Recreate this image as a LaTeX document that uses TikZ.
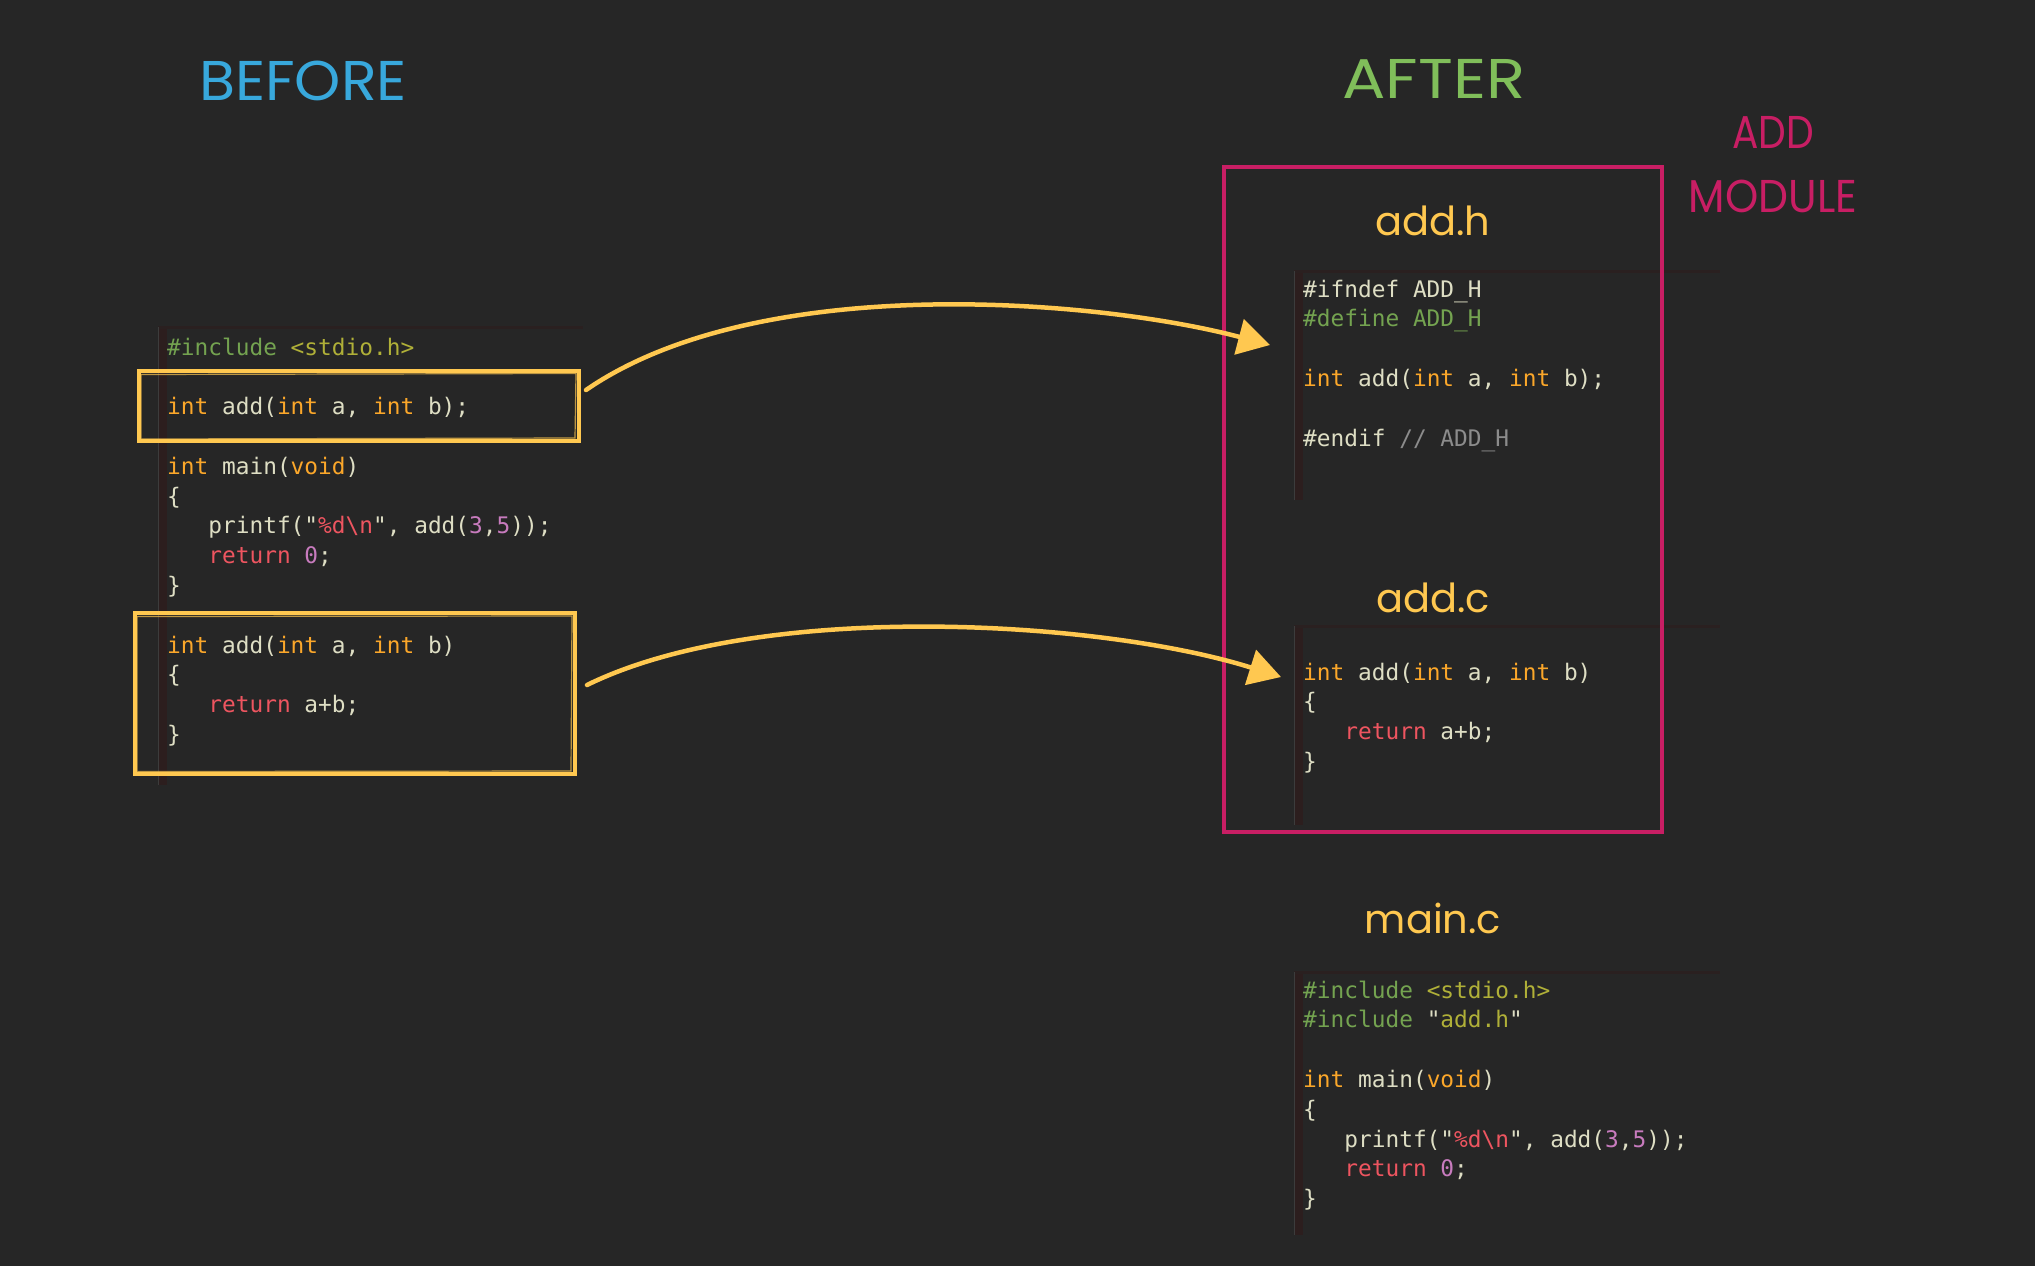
\documentclass[tikz,border=0pt]{standalone}
\usepackage{fontspec}
\setmonofont{DejaVu Sans Mono}
\newfontfamily\handfont{Poppins}
\usetikzlibrary{arrows.meta}
\definecolor{bgc}{HTML}{262626}
\definecolor{creamc}{HTML}{DEDEC4}
\definecolor{kwc}{HTML}{FBA72A}
\definecolor{ppc}{HTML}{74A350}
\definecolor{stc}{HTML}{B0B038}
\definecolor{rdc}{HTML}{EE5560}
\definecolor{nmc}{HTML}{C87BBE}
\definecolor{cmc}{HTML}{8C8C8C}
\definecolor{yelc}{HTML}{FFC850}
\definecolor{pinkc}{HTML}{C81E64}
\definecolor{bluec}{HTML}{38A8DC}
\definecolor{greenc}{HTML}{80BE5A}
\definecolor{barc}{HTML}{2C1E1E}
\definecolor{topc}{HTML}{2A2020}
\definecolor{edgec}{HTML}{3C3C3C}
\newcommand\ckw[1]{\textcolor{kwc}{#1}}
\newcommand\cpp[1]{\textcolor{ppc}{#1}}
\newcommand\cst[1]{\textcolor{stc}{#1}}
\newcommand\crd[1]{\textcolor{rdc}{#1}}
\newcommand\cnm[1]{\textcolor{nmc}{#1}}
\newcommand\ccmt[1]{\textcolor{cmc}{#1}}
\begin{document}
\begin{tikzpicture}[x=1pt,y=-1pt,
  code/.style={anchor=base west,inner sep=0pt,text=creamc,font=\ttfamily\fontsize{22.8pt}{29.8pt}\selectfont},
  hand/.style={anchor=base,inner sep=0pt},
  filetitle/.style={hand,text=yelc,font=\handfont\fontsize{40pt}{44pt}\selectfont},
  ybox/.style={draw=yelc,line width=4.5pt,inner sep=0pt,rectangle},
  pbox/.style={draw=pinkc,line width=4.5pt,inner sep=0pt,rectangle},
  arr/.style={draw=yelc,line width=4.5pt,line cap=round,-{Triangle[length=32pt,width=36pt]}}]
\useasboundingbox (0,0) rectangle (2035,1266);
\fill[bgc] (0,0) rectangle (2035,1266);

% code panels
\fill[barc] (158,327) rectangle (167,785);
\draw[topc,line width=3pt] (158,327) -- (583,327);
\draw[edgec,line width=1pt] (158,327) -- (158,785);
\fill[barc] (1294,271) rectangle (1303,500);
\draw[topc,line width=3pt] (1294,271) -- (1720,271);
\draw[edgec,line width=1pt] (1294,271) -- (1294,500);
\fill[barc] (1294,626) rectangle (1303,825);
\draw[topc,line width=3pt] (1294,626) -- (1720,626);
\draw[edgec,line width=1pt] (1294,626) -- (1294,825);
\fill[barc] (1294,972) rectangle (1303,1235);
\draw[topc,line width=3pt] (1294,972) -- (1720,972);
\draw[edgec,line width=1pt] (1294,972) -- (1294,1235);

% titles
\node[hand,text=bluec,font=\handfont\fontsize{56pt}{60pt}\selectfont] (before) at (303,100) {\scalebox{1.05}[1]{BEFORE}};
\node[hand,text=greenc,font=\handfont\fontsize{56pt}{60pt}\selectfont] (after) at (1434,98) {\scalebox{1.15}[1]{AFTER}};
\node[hand,text=pinkc,font=\handfont\fontsize{46pt}{50pt}\selectfont] (addlbl) at (1773,148) {\scalebox{0.85}[1]{ADD}};
\node[hand,text=pinkc,font=\handfont\fontsize{46pt}{50pt}\selectfont] (modlbl) at (1773,212) {\scalebox{0.92}[1]{MODULE}};
\node[filetitle] (th) at (1433,235) {add.h};
\node[filetitle] (tc) at (1433,612) {add.c};
\node[filetitle] (tm) at (1433,933) {main.c};

% left code
\node[code] (l0) at (167,355.0) {\cpp{\#include} \cst{<stdio.h>}};
\node[code] (l2) at (167,414.6) {\ckw{int} add(\ckw{int} a, \ckw{int} b);};
\node[code] (l4) at (167,474.2) {\ckw{int} main(\ckw{void})};
\node[code] (l5) at (167,504.0) {\{};
\node[code] (l6) at (167,533.8) {\ \ \ printf("\crd{\%d\textbackslash n}", add(\cnm{3},\cnm{5}));};
\node[code] (l7) at (167,563.6) {\ \ \ \crd{return} \cnm{0};};
\node[code] (l8) at (167,593.4) {\}};
\node[code] (l10) at (167,653.0) {\ckw{int} add(\ckw{int} a, \ckw{int} b)};
\node[code] (l11) at (167,682.8) {\{};
\node[code] (l12) at (167,712.6) {\ \ \ \crd{return} a+b;};
\node[code] (l13) at (167,742.4) {\}};

% add.h code
\node[code] (h0) at (1303,297.0) {\#ifndef ADD\_H};
\node[code] (h1) at (1303,326.8) {\cpp{\#define ADD\_H}};
\node[code] (h3) at (1303,386.4) {\ckw{int} add(\ckw{int} a, \ckw{int} b);};
\node[code] (h5) at (1303,446.0) {\#endif \ccmt{// ADD\_H}};

% add.c code
\node[code] (c0) at (1303,680.0) {\ckw{int} add(\ckw{int} a, \ckw{int} b)};
\node[code] (c1) at (1303,709.8) {\{};
\node[code] (c2) at (1303,739.6) {\ \ \ \crd{return} a+b;};
\node[code] (c3) at (1303,769.4) {\}};

% main.c code
\node[code] (m0) at (1303,998.0) {\cpp{\#include} \cst{<stdio.h>}};
\node[code] (m1) at (1303,1027.8) {\cpp{\#include} "\cst{add.h}"};
\node[code] (m3) at (1303,1087.4) {\ckw{int} main(\ckw{void})};
\node[code] (m4) at (1303,1117.2) {\{};
\node[code] (m5) at (1303,1147.0) {\ \ \ printf("\crd{\%d\textbackslash n}", add(\cnm{3},\cnm{5}));};
\node[code] (m6) at (1303,1176.8) {\ \ \ \crd{return} \cnm{0};};
\node[code] (m7) at (1303,1206.6) {\}};

% boxes
\node[ybox,minimum width=440pt,minimum height=70pt] (box1) at (359,406) {};
\draw[yelc,line width=1.2pt,opacity=0.7] (141,374.5) -- (576,373.5) -- (575,438) -- (141,439) -- cycle;
\node[ybox,minimum width=440pt,minimum height=161pt] (box2) at (355,693.5) {};
\draw[yelc,line width=1.2pt,opacity=0.7] (137,616.5) -- (572,616) -- (571,771) -- (137,771.5) -- cycle;
\node[pbox,minimum width=438pt,minimum height=665pt] (module) at (1443,499.5) {};

% arrows
\coordinate (s1) at (586,390);
\coordinate (t1) at (1270,345);
\coordinate (s2) at (587,685);
\coordinate (t2) at (1281,677);
\draw[arr] (s1) .. controls (760,270) and (1100,300) .. (t1);
\draw[arr] (s2) .. controls (760,600) and (1100,620) .. (t2);
\end{tikzpicture}
\end{document}
